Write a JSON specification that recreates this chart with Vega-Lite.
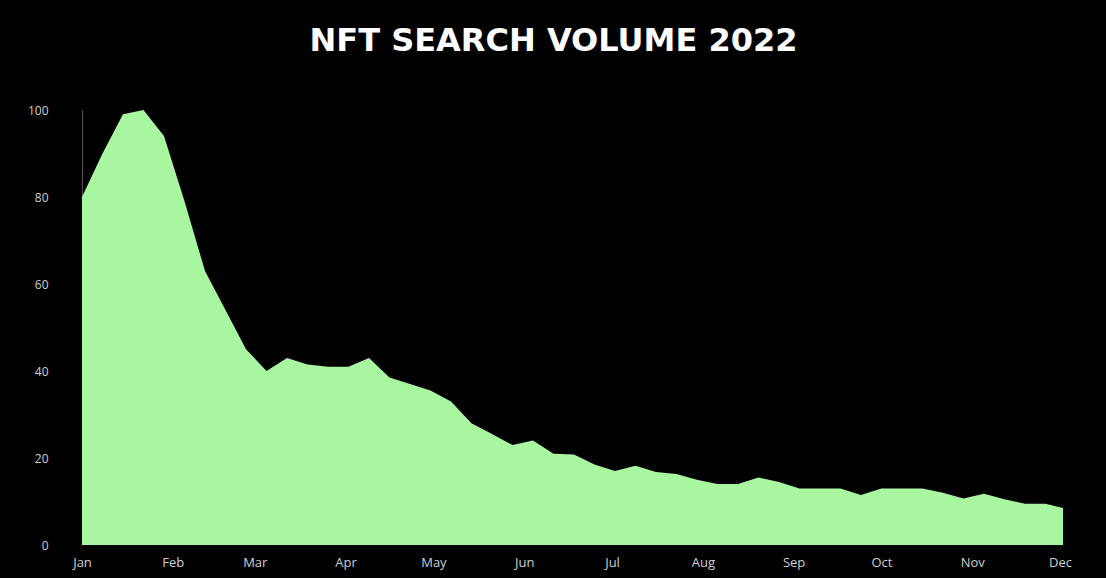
{
  "$schema": "https://vega.github.io/schema/vega-lite/v6.json",
  "autosize": "none",
  "width": 981,
  "height": 435,
  "padding": {"left": 82, "top": 110, "right": 43, "bottom": 33},
  "background": "#000000",
  "config": {"view": {"stroke": null}},
  "title": {
    "text": "NFT SEARCH VOLUME 2022",
    "color": "#ffffff",
    "font": "DejaVu Sans",
    "fontSize": 32,
    "fontWeight": "bold",
    "anchor": "middle",
    "frame": "group",
    "dx": -19,
    "baseline": "alphabetic",
    "offset": 21
  },
  "data": {
    "values": [
      {"week": "2022-01-01", "value": 80},
      {"week": "2022-01-08", "value": 90},
      {"week": "2022-01-15", "value": 99},
      {"week": "2022-01-22", "value": 100},
      {"week": "2022-01-29", "value": 94},
      {"week": "2022-02-05", "value": 79},
      {"week": "2022-02-12", "value": 63},
      {"week": "2022-02-19", "value": 54},
      {"week": "2022-02-26", "value": 45},
      {"week": "2022-03-05", "value": 40},
      {"week": "2022-03-12", "value": 43},
      {"week": "2022-03-19", "value": 41.5},
      {"week": "2022-03-26", "value": 41},
      {"week": "2022-04-02", "value": 41},
      {"week": "2022-04-09", "value": 43},
      {"week": "2022-04-16", "value": 38.5},
      {"week": "2022-04-23", "value": 37},
      {"week": "2022-04-30", "value": 35.5},
      {"week": "2022-05-07", "value": 33},
      {"week": "2022-05-14", "value": 28},
      {"week": "2022-05-21", "value": 25.5},
      {"week": "2022-05-28", "value": 23},
      {"week": "2022-06-04", "value": 24},
      {"week": "2022-06-11", "value": 21},
      {"week": "2022-06-18", "value": 20.8},
      {"week": "2022-06-25", "value": 18.5},
      {"week": "2022-07-02", "value": 17},
      {"week": "2022-07-09", "value": 18.2},
      {"week": "2022-07-16", "value": 16.8},
      {"week": "2022-07-23", "value": 16.3},
      {"week": "2022-07-30", "value": 15},
      {"week": "2022-08-06", "value": 14},
      {"week": "2022-08-13", "value": 14},
      {"week": "2022-08-20", "value": 15.5},
      {"week": "2022-08-27", "value": 14.5},
      {"week": "2022-09-03", "value": 13},
      {"week": "2022-09-10", "value": 13},
      {"week": "2022-09-17", "value": 13},
      {"week": "2022-09-24", "value": 11.5},
      {"week": "2022-10-01", "value": 13},
      {"week": "2022-10-08", "value": 13},
      {"week": "2022-10-15", "value": 13},
      {"week": "2022-10-22", "value": 12},
      {"week": "2022-10-29", "value": 10.7},
      {"week": "2022-11-05", "value": 11.8},
      {"week": "2022-11-12", "value": 10.5},
      {"week": "2022-11-19", "value": 9.5},
      {"week": "2022-11-26", "value": 9.5},
      {"week": "2022-12-02", "value": 8.5}
    ]
  },
  "mark": {"type": "area", "color": "#a8f7a0", "interpolate": "linear"},
  "encoding": {
    "x": {
      "field": "week",
      "type": "temporal",
      "scale": {"domain": [{"year": 2022, "month": 1, "date": 1}, {"year": 2022, "month": 12, "date": 2}], "nice": false},
      "axis": {
        "title": null,
        "format": "%b",
        "tickCount": {"interval": "month", "step": 1},
        "ticks": false,
        "domain": false,
        "grid": false,
        "labelColor": "#cfcfcf",
        "labelFont": "Open Sans",
        "labelFontSize": 13,
        "labelPadding": 11,
        "labelFlush": false,
        "labelOverlap": false
      }
    },
    "y": {
      "field": "value",
      "type": "quantitative",
      "scale": {"domain": [0, 100], "nice": false},
      "axis": {
        "title": null,
        "values": [0, 20, 40, 60, 80, 100],
        "ticks": false,
        "grid": false,
        "domain": true,
        "domainColor": "#5a4f5a",
        "domainWidth": 1,
        "labelColor": "#cfcfcf",
        "labelFont": "Open Sans",
        "labelFontSize": 12,
        "labelPadding": 34
      }
    }
  }
}
